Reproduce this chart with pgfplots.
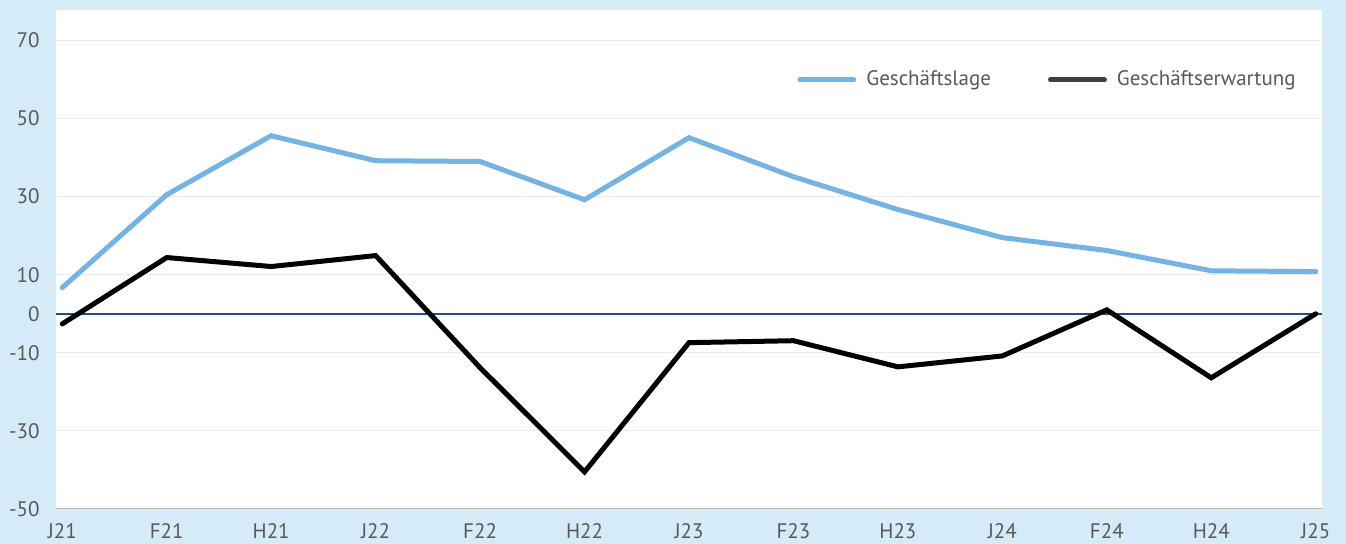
\documentclass[border=0pt]{standalone}
\usepackage{fontspec}
\setmainfont{PT Sans}
\usepackage{pgfplots}
\pgfplotsset{compat=1.18}
\definecolor{bgblue}{HTML}{D5EBF7}
\definecolor{lineblue}{HTML}{74B3E2}
\definecolor{labelgray}{HTML}{595959}
\definecolor{gridgray}{HTML}{EBEBEB}
\definecolor{zeroblue}{HTML}{1F4E8C}
\definecolor{leggray}{HTML}{404040}
\begin{document}
\begin{tikzpicture}
\path[use as bounding box, fill=bgblue] (-28pt,-17.5pt) rectangle (645pt,254.5pt);
\begin{axis}[
  scale only axis,
  width=633pt, height=249.5pt,
  xmin=-0.06, xmax=12.06,
  ymin=-50, ymax=77.8,
  axis background/.style={fill=white},
  axis line style={draw=none},
  xtick={0,1,2,3,4,5,6,7,8,9,10,11,12},
  xticklabels={J21,F21,H21,J22,F22,H22,J23,F23,H23,J24,F24,H24,J25},
  ytick={-50,-30,-10,0,10,30,50,70},
  major tick length=0pt,
  ymajorgrids,
  grid style={gridgray, line width=0.6pt},
  /pgf/number format/assume math mode=true,
  tick label style={font=\fontsize{10.5}{12}\selectfont, text=labelgray, inner sep=0pt},
  yticklabel style={anchor=east, xshift=-8pt},
  xticklabel style={anchor=north, yshift=-7.2pt},
  legend style={at={(rel axis cs:0.9795,0.860)}, anchor=east, draw=none, fill=none,
    inner sep=0pt,
    font=\fontsize{10.5}{12}\selectfont, text=labelgray,
    legend columns=2, nodes={inner xsep=0pt, inner ysep=2pt},
    /tikz/every even column/.append style={column sep=28.5pt}},
  legend image code/.code={\draw[#1] (0pt,0pt) -- (27pt,0pt); \path (32pt,0pt);},
]
\draw[zeroblue, line width=0.8pt] (axis cs:-0.06,0) -- (axis cs:12.06,0);
\draw[gray!60, line width=0.8pt] (rel axis cs:0,0) -- (rel axis cs:1,0);
\addlegendimage{lineblue, line width=2.5pt, line cap=round}
\addlegendentry{Geschäftslage}
\addlegendimage{leggray, line width=2.5pt, line cap=round}
\addlegendentry{Geschäftserwartung}
\addplot[lineblue, line width=2.5pt, line cap=round, forget plot] coordinates {
(0,6.7) (1,30.5) (2,45.6) (3,39.2) (4,39.0) (5,29.2) (6,45.1) (7,35.1) (8,26.7) (9,19.5) (10,16.2) (11,11.0) (12,10.8)};
\addplot[black, line width=2.5pt, line cap=round, forget plot] coordinates {
(0,-2.6) (1,14.4) (2,12.1) (3,14.9) (4,-13.8) (5,-40.5) (6,-7.4) (7,-6.9) (8,-13.6) (9,-10.8) (10,1.0) (11,-16.4) (12,0.0)};
\end{axis}
\end{tikzpicture}
\end{document}
